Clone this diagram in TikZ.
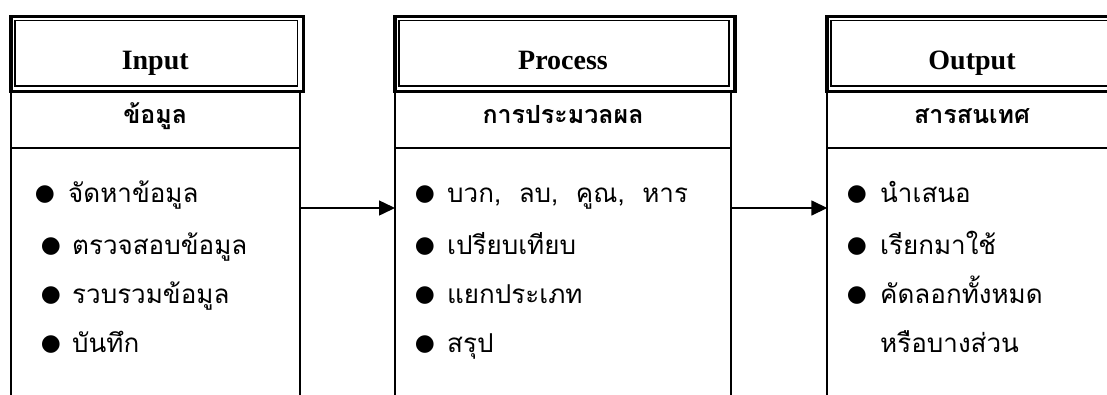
\documentclass[tikz,border=0pt]{standalone}
\usepackage{fontspec}
\setmainfont{Liberation Serif}
\newfontfamily\thai[Script=Thai]{Loma}
\newfontfamily\symf{DejaVu Sans}
\usetikzlibrary{arrows.meta}
\begin{document}
\begin{tikzpicture}[x=1pt,y=-1pt,
  title/.style={font=\fontsize{28}{30}\selectfont\bfseries, anchor=base, inner sep=0pt},
  sub/.style={font=\thai\fontsize{25}{28}\selectfont\bfseries, anchor=base, inner sep=0pt},
  item/.style={font=\thai\fontsize{26}{28}\selectfont, anchor=base west, inner sep=0pt},
  bul/.style={font=\symf\fontsize{23}{24}\selectfont, inner sep=0pt, anchor=center},
  outerframe/.style={draw, line width=3.5pt, inner sep=0pt, anchor=north west},
  innerframe/.style={draw, line width=1.5pt, inner sep=0pt, anchor=north west},
  body/.style={inner sep=0pt, anchor=north west, minimum height=320pt},
  colline/.style={line width=2pt},
  arr/.style={line width=1.5pt, -{Triangle[length=16pt,width=15pt]}}]
\clip (0,0) rectangle (1107,394);
\fill[white] (0,0) rectangle (1107,394);
% ---------- Box 1: Input ----------
\node[outerframe, minimum width=292.5pt, minimum height=75pt] (o1) at (9,14.5) {};
\node[innerframe, minimum width=282.5pt, minimum height=65.5pt] (i1) at (14,19.5) {};
\node[body, minimum width=288.5pt] (b1) at (11,89.5) {};
\draw[colline] (b1.north west) -- (b1.south west);
\draw[colline] (b1.north east) -- (b1.south east);
\draw[colline] ([yshift=-58.5pt]b1.north west) -- ([yshift=-58.5pt]b1.north east);
\node[title] (t1) at (155.25,69) {Input};
\node[sub] (s1) at (155.25,123) {ข้อมูล};
\node[bul] (u11) at (45,195) {●};
\node[item] (x11) at (68,202.5) {จัดหาข้อมูล};
\node[bul] (u12) at (51,247) {●};
\node[item] (x12) at (72,254.5) {ตรวจสอบข้อมูล};
\node[bul] (u13) at (51,296) {●};
\node[item] (x13) at (72,303.5) {รวบรวมข้อมูล};
\node[bul] (u14) at (51,345) {●};
\node[item] (x14) at (72,352.5) {บันทึก};
% ---------- Box 2: Process ----------
\node[outerframe, minimum width=340pt, minimum height=75pt] (o2) at (393,14.5) {};
\node[innerframe, minimum width=330pt, minimum height=65.5pt] (i2) at (398,19.5) {};
\node[body, minimum width=336pt] (b2) at (395,89.5) {};
\draw[colline] (b2.north west) -- (b2.south west);
\draw[colline] (b2.north east) -- (b2.south east);
\draw[colline] ([yshift=-58.5pt]b2.north west) -- ([yshift=-58.5pt]b2.north east);
\node[title] (t2) at (563,69) {Process};
\node[sub] (s2) at (563,123) {การประมวลผล};
\node[bul] (u21) at (425,195) {●};
\node[item] (x21) at (447,202.5) {บวก,\ \ ลบ,\ \ คูณ,\ \ หาร};
\node[bul] (u22) at (425,247) {●};
\node[item] (x22) at (447,254.5) {เปรียบเทียบ};
\node[bul] (u23) at (425,296) {●};
\node[item] (x23) at (447,303.5) {แยกประเภท};
\node[bul] (u24) at (425,345) {●};
\node[item] (x24) at (447,352.5) {สรุป};
% ---------- Box 3: Output ----------
\node[outerframe, minimum width=294pt, minimum height=75pt] (o3) at (825,14.5) {};
\node[innerframe, minimum width=284pt, minimum height=65.5pt] (i3) at (830,19.5) {};
\node[body, minimum width=290pt] (b3) at (827.3,89.5) {};
\draw[colline] (b3.north west) -- (b3.south west);
\draw[colline] (b3.north east) -- (b3.south east);
\draw[colline] ([yshift=-58.5pt]b3.north west) -- ([yshift=-58.5pt]b3.north east);
\node[title] (t3) at (972,69) {Output};
\node[sub] (s3) at (972,123) {สารสนเทศ};
\node[bul] (u31) at (857,195) {●};
\node[item] (x31) at (880,202.5) {นำเสนอ};
\node[bul] (u32) at (857,247) {●};
\node[item] (x32) at (880,254.5) {เรียกมาใช้};
\node[bul] (u33) at (857,296) {●};
\node[item] (x33) at (880,303.5) {คัดลอกทั้งหมด};
\node[item] (x34) at (880,352.5) {หรือบางส่วน};
% ---------- arrows ----------
\coordinate (p1) at (b1.east |- 0,208);
\coordinate (q1) at (b2.west |- 0,208);
\coordinate (p2) at (b2.east |- 0,208);
\coordinate (q2) at (b3.west |- 0,208);
\draw[arr] (p1) -- (q1);
\draw[arr] (p2) -- (q2);
\end{tikzpicture}
\end{document}
